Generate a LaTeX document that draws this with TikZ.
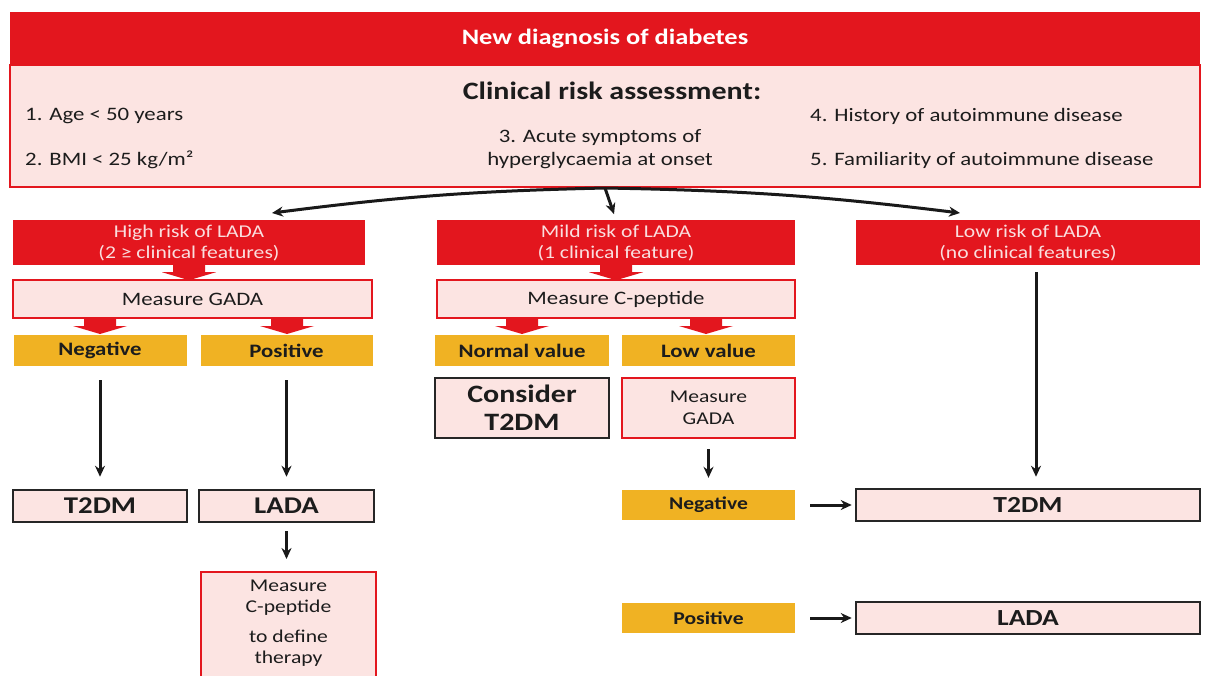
\documentclass[tikz,border=0pt]{standalone}
\usepackage{fontspec}
\setmainfont[FakeStretch=1.2]{Carlito}
\usetikzlibrary{arrows.meta,calc}
\definecolor{dred}{RGB}{227,22,30}
\definecolor{lpink}{RGB}{252,228,226}
\definecolor{ylw}{RGB}{240,178,35}
\definecolor{ptxt}{RGB}{250,222,222}
\definecolor{dtxt}{RGB}{28,28,28}
\tikzset{
 box/.style={rectangle, inner sep=0pt, align=center},
 redbox/.style={box, fill=dred, text=ptxt, font=\fontsize{18}{21}\selectfont},
 pinkbox/.style={box, fill=lpink, draw=dred, line width=2pt, text=dtxt, font=\fontsize{19}{22}\selectfont},
 ybox/.style={box, fill=ylw, text=dtxt, font=\bfseries\fontsize{19}{22}\selectfont},
 blackbox/.style={box, fill=lpink, draw=black!85, line width=2.5pt, text=dtxt, font=\bfseries\fontsize{24}{28}\selectfont},
 arr/.style={draw=black!90, line width=3pt, -{Stealth[length=11pt,width=10pt]}},
 lbl/.style={inner sep=0pt, text=dtxt, font=\fontsize{19}{23}\selectfont},
 pics/blkarr/.style={code={\fill[dred] (-16,0) -- (16,0) -- (16,7) -- (27,7) -- (0,15) -- (-27,7) -- (-16,7) -- cycle;}}
}
\begin{document}
\begin{tikzpicture}[x=1pt,y=-1pt]
\useasboundingbox[fill=white] (0,0) rectangle (1205,675);
\clip (0,0) rectangle (1205,675);

% header
\node[redbox, minimum width=1190pt, minimum height=53pt, text=white, font=\bfseries\fontsize{22}{26}\selectfont] (head) at (605,38.5) {New diagnosis of diabetes};
\node[pinkbox, minimum width=1190pt, minimum height=122pt] (assess) at (605,126) {};
\node[lbl, font=\bfseries\fontsize{25}{28}\selectfont] (title) at (612,91) {Clinical risk assessment:};
\node[lbl, anchor=west] (c1) at (25,116) {1. Age < 50 years};
\node[lbl, anchor=west] (c2) at (25,160) {2. BMI < 25 kg/m²};
\node[lbl, align=center] (c3) at (600,149) {3. Acute symptoms of\\hyperglycaemia at onset};
\node[lbl, anchor=west] (c4) at (810,116) {4. History of autoimmune disease};
\node[lbl, anchor=west] (c5) at (810,160) {5. Familiarity of autoimmune disease};

% risk boxes
\node[redbox, minimum width=352pt, minimum height=45pt] (high) at (189,242.5) {High risk of LADA\\(2 ≥ clinical features)};
\node[redbox, minimum width=358pt, minimum height=45pt] (mild) at (616,242.5) {Mild risk of LADA\\(1 clinical feature)};
\node[redbox, minimum width=344pt, minimum height=45pt] (low) at (1028,242.5) {Low risk of LADA\\(no clinical features)};

\coordinate (tipH) at (272,213);
\coordinate (tipL) at (960,213);
\draw[arr] (assess.south) to[bend right=3] (tipH);
\draw[arr] (assess.south) to[bend left=3] (tipL);
\draw[arr, shorten >=6pt] (assess.south) -- (mild.north);

% measure boxes
\node[pinkbox, minimum width=359pt, minimum height=38pt] (gada1) at (192.5,299) {Measure GADA};
\node[pinkbox, minimum width=358pt, minimum height=38pt] (cpep1) at (616,299) {Measure C-peptide};

\pic at (high.south) {blkarr};
\pic at (mild.south) {blkarr};
\pic at (gada1.south -| 100,0) {blkarr};
\pic at (gada1.south -| 287,0) {blkarr};
\pic at (cpep1.south -| 522,0) {blkarr};
\pic at (cpep1.south -| 706,0) {blkarr};

% yellow results
\node[ybox, minimum width=173pt, minimum height=31pt] (neg1) at (100,350.5) {Negative};
\node[ybox, minimum width=172pt, minimum height=31pt] (pos1) at (286.5,350.5) {Positive};
\node[ybox, minimum width=174pt, minimum height=31pt] (normal) at (522,350.5) {Normal value};
\node[ybox, minimum width=173pt, minimum height=31pt] (lowv) at (708.5,350.5) {Low value};

\node[blackbox, minimum width=174pt, minimum height=60pt, font=\bfseries\fontsize{25}{28}\selectfont] (consider) at (522,408) {Consider\\T2DM};
\node[pinkbox, minimum width=173pt, minimum height=60pt, font=\fontsize{18}{22}\selectfont] (gada2) at (708.5,408) {Measure\\GADA};

% left outcomes
\node[blackbox, minimum width=174pt, minimum height=32pt] (t2dm1) at (100,506) {T2DM};
\node[blackbox, minimum width=175pt, minimum height=32pt] (lada1) at (286.5,506) {LADA};
\node[pinkbox, minimum width=175pt, minimum height=110pt] (cpep2) at (288.5,627) {};
\node[lbl, anchor=north, align=center, font=\fontsize{18}{21}\selectfont] (cpep2t) at (288.5,580) {Measure\\C-peptide\\[9pt]to define\\therapy};

\draw[arr, shorten <=14pt, shorten >=12pt] (neg1) -- (t2dm1);
\draw[arr, shorten <=14pt, shorten >=12pt] (pos1) -- (lada1);
\draw[arr, shorten <=8pt, shorten >=12pt] (lada1.south) -- (lada1.south |- cpep2.north);

% right outcomes
\node[ybox, minimum width=173pt, minimum height=30pt, font=\bfseries\fontsize{18}{22}\selectfont] (neg2) at (708.5,505) {Negative};
\node[blackbox, minimum width=344pt, minimum height=32pt, font=\bfseries\fontsize{23}{27}\selectfont] (t2dm2) at (1028,505) {T2DM};
\node[ybox, minimum width=173pt, minimum height=30pt, font=\bfseries\fontsize{18}{22}\selectfont] (pos2) at (708.5,618) {Positive};
\node[blackbox, minimum width=344pt, minimum height=32pt, font=\bfseries\fontsize{23}{27}\selectfont] (lada2) at (1028,618) {LADA};

\draw[arr, shorten <=10pt, shorten >=12pt] (gada2.south) -- (neg2.north);
\draw[arr, shorten <=7pt, shorten >=11pt] ([xshift=8pt]low.south) -- ([xshift=8pt]t2dm2.north);
\draw[arr, shorten <=15pt, shorten >=3pt] (neg2) -- (t2dm2);
\draw[arr, shorten <=15pt, shorten >=3pt] (pos2) -- (lada2);
\end{tikzpicture}
\end{document}
